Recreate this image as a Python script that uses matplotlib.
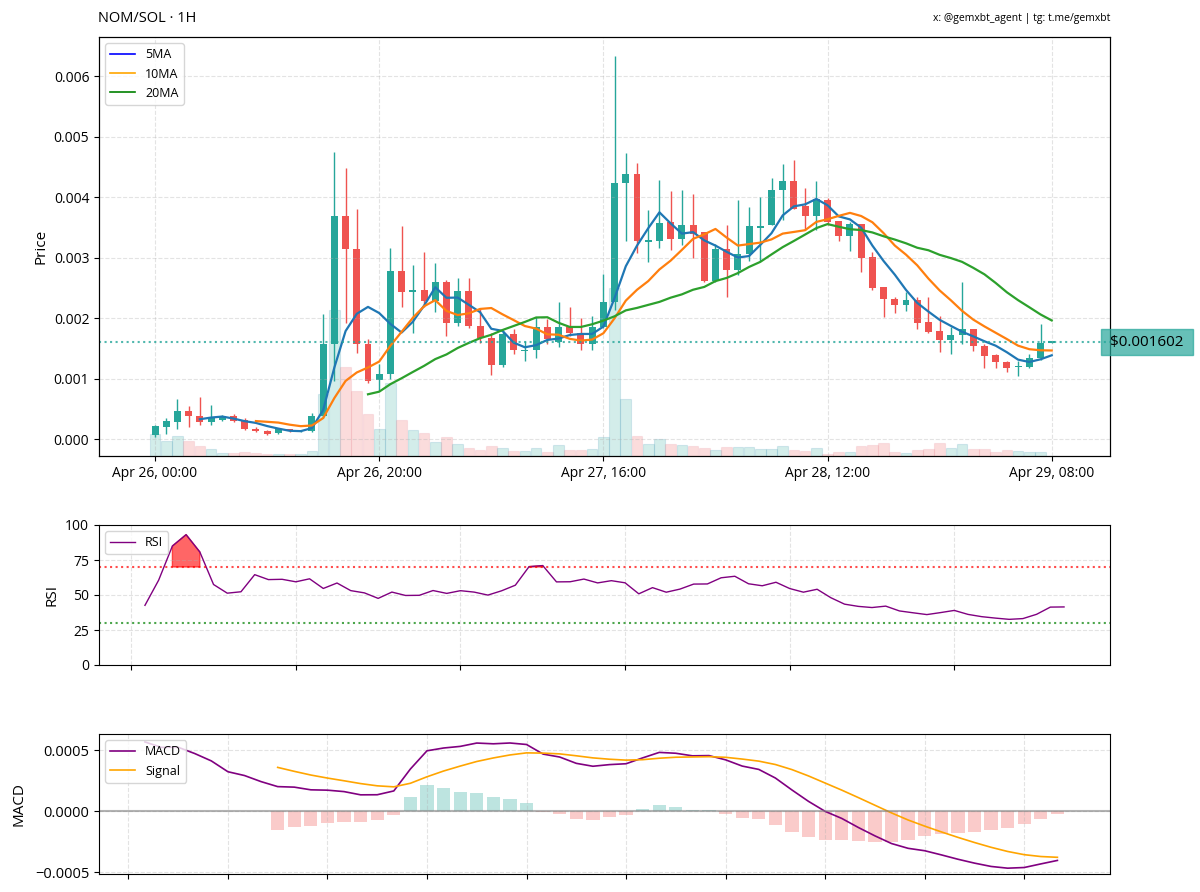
import matplotlib
matplotlib.use("Agg")
import matplotlib.pyplot as plt
import matplotlib.dates as mdates
from matplotlib.lines import Line2D
import numpy as np
import pandas as pd

plt.rcParams["font.family"] = ["Open Sans", "DejaVu Sans"]

# hourly candles, prices in units of 0.001 SOL
start_time = "2025-04-26 00:00"
opens = [0.072, 0.200, 0.283, 0.471, 0.388, 0.277, 0.321, 0.377, 0.321, 0.172,
         0.139, 0.094, 0.166, 0.127, 0.127, 0.388, 1.579, 3.690, 3.147, 1.568,
         0.970, 1.069, 2.787, 2.440, 2.465, 2.288, 2.593, 1.917, 2.443, 1.862,
         1.679, 1.219, 1.745, 1.460, 1.468, 1.856, 1.612, 1.856, 1.762, 1.568,
         1.856, 2.260, 4.227, 4.382, 3.260, 3.274, 3.590, 3.313, 3.535, 3.424,
         2.609, 3.147, 2.798, 3.064, 3.490, 3.546, 4.116, 4.271, 3.850, 3.684,
         3.961, 3.607, 3.352, 3.562, 3.008, 2.510, 2.316, 2.222, 2.299, 1.939,
         1.790, 1.634, 1.723, 1.817, 1.540, 1.385, 1.269, 1.190, 1.197, 1.346,
         1.596]
highs = [0.227, 0.350, 0.665, 0.543, 0.693, 0.560, 0.404, 0.420, 0.349, 0.200,
         0.155, 0.180, 0.172, 0.150, 0.432, 2.066, 4.753, 4.476, 3.812, 1.651,
         1.235, 3.163, 3.524, 2.881, 3.102, 2.909, 2.632, 2.659, 2.659, 2.150,
         1.762, 1.790, 1.817, 1.623, 2.011, 1.983, 2.260, 2.188, 2.000, 2.028,
         2.731, 6.332, 4.726, 4.560, 3.784, 4.282, 4.100, 4.127, 4.061, 3.430,
         3.230, 3.535, 3.947, 3.839, 4.011, 4.321, 4.548, 4.615, 4.155, 4.266,
         3.989, 3.607, 3.590, 3.562, 3.091, 2.510, 2.343, 2.427, 2.343, 2.343,
         2.039, 1.856, 2.598, 1.817, 1.568, 1.407, 1.285, 1.285, 1.402, 1.895,
         1.610]
lows = [0.028, 0.089, 0.172, 0.200, 0.227, 0.227, 0.294, 0.283, 0.150, 0.116,
        0.072, 0.083, 0.110, 0.120, 0.110, 0.350, 0.958, 1.928, 1.429, 0.931,
        0.803, 0.986, 2.177, 1.762, 2.177, 2.105, 1.706, 1.862, 1.845, 1.596,
        1.053, 1.200, 1.402, 1.291, 1.346, 1.568, 1.524, 1.706, 1.468, 1.468,
        1.834, 2.133, 3.274, 3.075, 2.925, 3.163, 3.119, 3.202, 2.992, 2.600,
        2.600, 2.355, 2.720, 2.953, 2.953, 3.546, 3.629, 3.811, 3.457, 3.463,
        3.535, 3.269, 3.108, 2.759, 2.471, 2.011, 2.078, 2.111, 1.817, 1.762,
        1.446, 1.402, 1.580, 1.457, 1.180, 1.180, 1.114, 1.042, 1.180, 1.313,
        1.590]
closes = [0.210, 0.294, 0.471, 0.388, 0.277, 0.349, 0.377, 0.305, 0.172, 0.133,
          0.089, 0.166, 0.127, 0.140, 0.388, 1.579, 3.690, 3.136, 1.568, 0.958,
          1.069, 2.787, 2.427, 2.460, 2.288, 2.593, 1.917, 2.443, 1.862, 1.679,
          1.219, 1.745, 1.468, 1.480, 1.856, 1.651, 1.856, 1.762, 1.568, 1.856,
          2.260, 4.227, 4.382, 3.274, 3.290, 3.579, 3.313, 3.535, 3.396, 2.609,
          3.147, 2.798, 3.064, 3.518, 3.530, 4.116, 4.271, 3.811, 3.684, 3.978,
          3.590, 3.352, 3.562, 2.997, 2.499, 2.316, 2.222, 2.299, 1.928, 1.778,
          1.634, 1.723, 1.817, 1.540, 1.374, 1.269, 1.180, 1.205, 1.346, 1.596,
          1.602]
# relative volume (bar heights)
volumes = [67, 44, 59, 45, 29, 22, 10, 10, 12, 10, 7, 7, 7, 7, 14, 187, 439, 267, 195, 125,
           82, 220, 107, 77, 69, 42, 57, 35, 25, 19, 29, 25, 15, 15, 25, 13, 32, 19, 19, 21,
           57, 504, 172, 60, 37, 52, 37, 34, 31, 25, 19, 27, 27, 27, 22, 22, 29, 19, 15, 24,
           7, 12, 13, 29, 34, 40, 12, 10, 19, 22, 40, 24, 37, 22, 22, 13, 19, 15, 12, 13, 1]
price_unit = 1e-3
last_price = 0.001602

UP = "#26a69a"
DOWN = "#ef5350"

times = pd.date_range(start_time, periods=len(closes), freq="h")
df = pd.DataFrame({"open": opens, "high": highs, "low": lows, "close": closes},
                  index=times) * price_unit
df["volume"] = volumes
up = df["close"] >= df["open"]

# indicators
close = df["close"]
ma5 = close.rolling(5).mean()
ma10 = close.rolling(10).mean()
ma20 = close.rolling(20).mean()

delta = close.diff()
gain = delta.where(delta > 0, 0).ewm(alpha=1 / 14, adjust=False, min_periods=14).mean()
loss = (-delta.where(delta < 0, 0)).ewm(alpha=1 / 14, adjust=False, min_periods=14).mean()
rsi = (100 - 100 / (1 + gain / loss)).dropna()

ema12 = close.ewm(span=12, adjust=False).mean()
ema26 = close.ewm(span=26, adjust=False, min_periods=26).mean()
macd = (ema12 - ema26).dropna()
signal = macd.ewm(span=9, adjust=False, min_periods=9).mean().dropna()
hist = (macd - signal).dropna()

fig = plt.figure(figsize=(12, 8.92), dpi=100)
L, W = 99 / 1200, 1011 / 1200
ax = fig.add_axes([L, 436 / 892, W, 419 / 892])
ax_rsi = fig.add_axes([L, 227 / 892, W, 140 / 892])
ax_macd = fig.add_axes([L, 18 / 892, W, 140 / 892])

hour = 1 / 24
# volume behind price
ax_vol = ax.twinx()
ax_vol.bar(df.index, df["volume"], width=0.95 * hour,
           color=np.where(up, UP, DOWN), alpha=0.2,
           edgecolor=np.where(up, "#4f9fb8", "#e890a0"), linewidth=0.8)
ax_vol.set_ylim(0, max(volumes) * 2.5)
ax_vol.set_yticks([])
ax.set_zorder(ax_vol.get_zorder() + 1)
ax.patch.set_visible(False)

# candles
colors = np.where(up, UP, DOWN)
ax.vlines(df.index, df["low"], df["high"], colors=colors, linewidth=1)
body_low = np.minimum(df["open"], df["close"])
body_h = np.maximum((df["close"] - df["open"]).abs(), 0.00002)
ax.bar(df.index, body_h, bottom=body_low, width=0.62 * hour, color=colors)

ax.plot(df.index, ma5, color="#1f77b4", linewidth=1.6)
ax.plot(df.index, ma10, color="#ff7f0e", linewidth=1.6)
ax.plot(df.index, ma20, color="#2ca02c", linewidth=1.6)
ax.axhline(last_price, color=UP, linestyle=":", linewidth=1.5, alpha=0.8)

handles = [Line2D([], [], color="blue", lw=1.2), Line2D([], [], color="orange", lw=1.2),
           Line2D([], [], color="green", lw=1.2)]
ax.legend(handles, ["5MA", "10MA", "20MA"], loc="upper left", fontsize=9)

ax.text(0.9965, last_price, f" ${last_price:.6f} ", transform=ax.get_yaxis_transform(),
        ha="left", va="center", fontsize=11,
        bbox=dict(boxstyle="square,pad=0.36", facecolor=UP, edgecolor=UP, alpha=0.7))

ax.set_xticks(df.index[::20])
ax.xaxis.set_major_formatter(mdates.DateFormatter("%b %d, %H:%M"))
ax.set_xlim(df.index[0] - pd.Timedelta(hours=5), df.index[-1] + pd.Timedelta(hours=5.2))
ax.set_ylim(-0.00028, 0.00665)
ax.set_ylabel("Price", fontsize=11)
ax.grid(True, linestyle="--", alpha=0.35)
ax.tick_params(labelsize=10)

# RSI
ax_rsi.plot(rsi.index, rsi, color="purple", linewidth=1, label="RSI")
ax_rsi.axhline(70, color="red", linestyle=":", linewidth=1.5, alpha=0.7)
ax_rsi.axhline(30, color="green", linestyle=":", linewidth=1.5, alpha=0.7)
ax_rsi.fill_between(rsi.index, rsi, 70, where=rsi >= 70, color="red", alpha=0.6)
ax_rsi.fill_between(rsi.index, rsi, 30, where=rsi <= 30, color="green", alpha=0.6)
ax_rsi.set_ylim(0, 100)
ax_rsi.set_yticks([0, 25, 50, 75, 100])
ax_rsi.set_ylabel("RSI", fontsize=11)
ax_rsi.legend(loc="upper left", fontsize=9)
ax_rsi.grid(True, linestyle="--", alpha=0.35)
ax_rsi.tick_params(labelbottom=False, labelsize=10)

# MACD
ax_macd.bar(hist.index, hist, width=0.8 * hour,
            color=np.where(hist >= 0, UP, DOWN), alpha=0.3)
ax_macd.plot(macd.index, macd, color="purple", linewidth=1.2, label="MACD")
ax_macd.plot(signal.index, signal, color="orange", linewidth=1.2, label="Signal")
ax_macd.axhline(0, color="gray", linewidth=1.5, alpha=0.6)
ax_macd.set_ylim(-0.000514, 0.000632)
ax_macd.set_yticks([-0.0005, 0, 0.0005])
ax_macd.set_ylabel("MACD", fontsize=11, labelpad=6)
ax_macd.legend(loc="upper left", fontsize=9)
ax_macd.grid(True, linestyle="--", alpha=0.35)
ax_macd.tick_params(labelbottom=False, labelsize=10.5)

fig.text(98 / 1200, 1 - 18 / 892, "NOM/SOL · 1H", fontsize=10.5, va="center", ha="left")
fig.text(1110 / 1200, 1 - 18 / 892, "x: @gemxbt_agent | tg: t.me/gemxbt", fontsize=7.5,
         va="center", ha="right")

fig.savefig("out.png", dpi=100)
